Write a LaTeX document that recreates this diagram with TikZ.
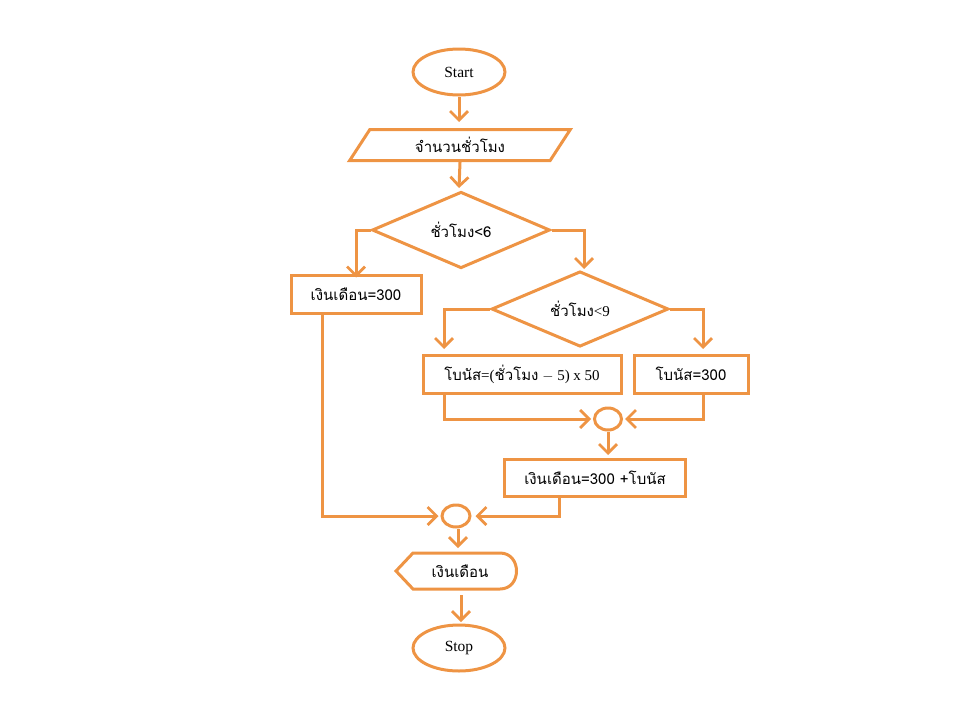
\documentclass[tikz,border=0pt]{standalone}
\usepackage{fontspec}
\setmainfont{Liberation Serif}
\newfontfamily\thai[Script=Thai]{Loma}
\usetikzlibrary{shapes.geometric,arrows.meta}
\definecolor{flow}{HTML}{EE9444}
\tikzset{
  ln/.style={draw=flow,line width=3pt,line join=miter},
  arr/.style={ln,-{Straight Barb[length=9pt,width=18pt,line width=2.8pt]}},
  term/.style={ln,ellipse,minimum width=92pt,minimum height=46pt,inner sep=0pt,font=\fontsize{15.5}{17}\selectfont},
  proc/.style={ln,rectangle,inner sep=0pt,font=\fontsize{15}{17}\selectfont},
  dec/.style={ln,diamond,inner sep=0pt,font=\fontsize{15}{17}\selectfont},
  junc/.style={ln,ellipse,inner sep=0pt},
  txt/.style={inner sep=0pt,font=\fontsize{15}{17}\selectfont}
}
\begin{document}
\begin{tikzpicture}[x=1pt,y=-1pt]
\useasboundingbox (0,0) rectangle (960,720);
\node[term] (start) at (459,72) {Start};
\node[ln,trapezium,trapezium left angle=57,trapezium right angle=123,trapezium stretches=true,minimum width=221pt,minimum height=31pt,inner sep=0pt,font=\fontsize{15}{17}\selectfont] (inp) at (460,145) {\thai จำนวนชั่วโมง};
\node[dec,minimum width=178pt,minimum height=67pt] (d1) at (461,230) {\thai ชั่วโมง<6};
\node[proc,minimum width=130pt,minimum height=38pt] (b1) at (356,294) {\thai เงินเดือน=300};
\node[dec,minimum width=177pt,minimum height=69pt] (d2) at (580,309) {{\thai ชั่วโมง}<9};
\node[proc,minimum width=198pt,minimum height=38pt] (b2) at (522,374) {{\thai โบนัส}=({\thai ชั่วโมง} $-$ 5) x 50};
\node[proc,minimum width=114pt,minimum height=38pt] (b3) at (691,374) {\thai โบนัส=300};
\node[junc,minimum width=27pt,minimum height=22pt] (j1) at (608,419) {};
\node[proc,minimum width=181pt,minimum height=37pt] (b4) at (595,478) {\thai เงินเดือน=300 +โบนัส};
\node[junc,minimum width=28pt,minimum height=22pt] (j2) at (456,516) {};
\node[txt] (out) at (460,571) {\thai เงินเดือน};
\draw[ln] (396,571) -- (413,553) -- (500,553) .. controls (522,553) and (522,589) .. (500,589) -- (413,589) -- cycle;
\coordinate (outbot) at (461,589);
\node[term] (stop) at (459,648) {Stop};
% connectors
\draw[arr] (start.south) -- (459,122);
\draw[arr] (inp.south) -- (459,188);
\draw[arr] (d1.west) -| ([yshift=-4pt]b1.north);
\draw[arr] (d1.east) -| (584,269);
\draw[arr] (d2.west) -| (444,349);
\draw[arr] (d2.east) -| (703,349);
\draw[arr] (b2.south -| 444,0) |- ([xshift=-2pt]j1.west);
\draw[arr] (b3.south -| 703,0) |- ([xshift=2pt]j1.east);
\draw[arr] (j1.south) -- (608,455);
\draw[arr] (b4.south -| 559,0) |- ([xshift=4pt]j2.east);
\draw[arr] (b1.south -| 322,0) |- ([xshift=-2pt]j2.west);
\draw[arr] (j2.south -| 458,0) -- (458,548);
\draw[arr] (outbot) ++(0,6) -- (461,622);
\end{tikzpicture}
\end{document}
